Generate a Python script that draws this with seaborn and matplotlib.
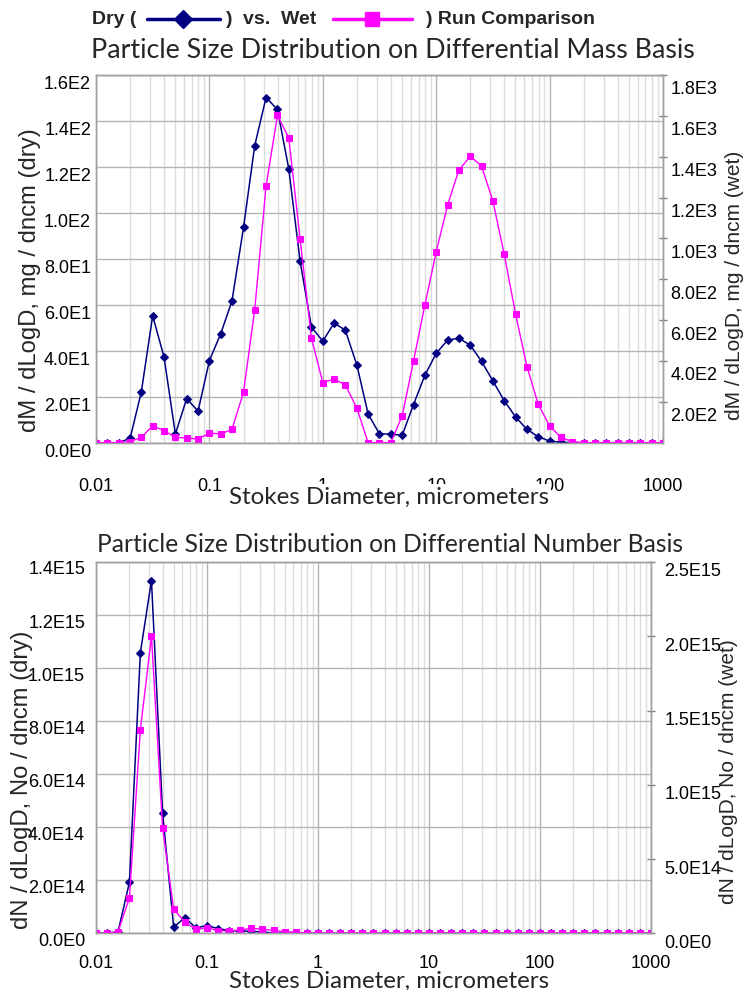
import numpy as np
import pandas as pd
import matplotlib
matplotlib.use("Agg")
import matplotlib.pyplot as plt
import seaborn as sns
from matplotlib.lines import Line2D
from matplotlib.ticker import FixedLocator, NullFormatter
from matplotlib.transforms import ScaledTranslation

# ---------------- data ----------------
diameter_um = [0.01, 0.0126, 0.0158, 0.02, 0.0251, 0.0316, 0.0398, 0.0501, 0.0631, 0.0794,
               0.1, 0.126, 0.158, 0.2, 0.251, 0.316, 0.398, 0.501, 0.631, 0.794,
               1.0, 1.26, 1.58, 2.0, 2.51, 3.16, 3.98, 5.01, 6.31, 7.94,
               10.0, 12.6, 15.8, 20.0, 25.1, 31.6, 39.8, 50.1, 63.1, 79.4,
               100.0, 126.0, 158.0, 200.0, 251.0, 316.0, 398.0, 501.0, 631.0, 794.0, 1000.0]

mass_dry = [0, 0, 0, 1.9, 22.1, 55.2, 37.3, 3.8, 19.2, 13.7,
            35.7, 47.5, 61.6, 93.7, 129.3, 150.2, 145.0, 119.2, 78.9, 50.3,
            44.2, 52.1, 48.9, 33.7, 12.5, 3.8, 3.8, 3.2, 16.6, 29.3,
            38.9, 44.6, 45.5, 42.4, 35.4, 26.9, 18.3, 11.2, 5.8, 2.6,
            0.7, 0.2, 0, 0, 0, 0, 0, 0, 0, 0, 0]

mass_wet = [0, 0, 0, 5, 26, 83, 59, 26, 23, 18,
            47, 43, 65, 247, 651, 1256, 1602, 1493, 996, 512,
            294, 311, 283, 168, 0, 0, 0, 131, 399, 674,
            934, 1163, 1333, 1403, 1354, 1184, 922, 630, 373, 188,
            82, 26, 5, 0, 0, 0, 0, 0, 0, 0, 0]

num_dry = [0, 0, 6e12, 1.92e14, 1.058e15, 1.33e15, 4.53e14, 2.3e13, 5.9e13, 2.1e13,
           2.9e13, 1.8e13, 1.0e13, 9e12, 7.5e12, 5e12, 1e12, 5e11, 0, 0,
           0, 0, 0, 0, 0, 0, 0, 0, 0, 0,
           0, 0, 0, 0, 0, 0, 0, 0, 0, 0,
           0, 0, 0, 0, 0, 0, 0, 0, 0, 0, 0]

num_wet = [0, 0, 1.1e13, 2.38e14, 1.37e15, 2.0e15, 7.11e14, 1.61e14, 7.6e13, 2.7e13,
           3.8e13, 1.8e13, 1.6e13, 2.2e13, 3.4e13, 2.7e13, 2.0e13, 1.1e13, 7e12, 2e12,
           0, 0, 0, 0, 0, 0, 0, 0, 0, 0,
           0, 0, 0, 0, 0, 0, 0, 0, 0, 0,
           0, 0, 0, 0, 0, 0, 0, 0, 0, 0, 0]

x_ticks = [0.01, 0.1, 1, 10, 100, 1000]
x_tick_labels = ["0.01", "0.1", "1", "10", "100", "1000"]

mass_dry_ticks = [0, 20, 40, 60, 80, 100, 120, 140, 160]
mass_dry_labels = ["0.0E0", "2.0E1", "4.0E1", "6.0E1", "8.0E1", "1.0E2", "1.2E2", "1.4E2", "1.6E2"]
mass_wet_ticks = [200, 400, 600, 800, 1000, 1200, 1400, 1600, 1800]
mass_wet_labels = ["2.0E2", "4.0E2", "6.0E2", "8.0E2", "1.0E3", "1.2E3", "1.4E3", "1.6E3", "1.8E3"]
num_dry_ticks = [0, 2e14, 4e14, 6e14, 8e14, 1.0e15, 1.2e15, 1.4e15]
num_dry_labels = ["0.0E0", "2.0E14", "4.0E14", "6.0E14", "8.0E14", "1.0E15", "1.2E15", "1.4E15"]
num_wet_ticks = [0, 5e14, 1.0e15, 1.5e15, 2.0e15, 2.5e15]
num_wet_labels = ["0.0E0", "5.0E14", "1.0E15", "1.5E15", "2.0E15", "2.5E15"]

# ---------------- style ----------------
sns.set_theme(style="white")
plt.rcParams['font.family'] = ['Liberation Sans', 'DejaVu Sans']

DRY = "#000080"
WET = "#ff00ff"
GRID_MAJOR = "#b4b4b4"
GRID_MINOR = "#dcdcdc"
SPINE = "#a0a0a0"
TITLE_FONT = ['Lato', 'DejaVu Sans']

W, H = 749, 990
fig = plt.figure(figsize=(W / 100, H / 100), dpi=100)
fig.patch.set_facecolor("white")
renderer = fig.canvas.get_renderer()
PX = 72 / 100  # points per pixel


def fx(px):
    return px / W


def fy(py):
    return 1 - py / H


def fit(t, target_px, vertical=False):
    bb = t.get_window_extent(renderer)
    cur = bb.height if vertical else bb.width
    t.set_fontsize(t.get_fontsize() * target_px / cur)


def make_panel(left, right, top, bottom, xvals, ydry, ywet,
               dticks, dlabels, wticks, wlabels, dlim, wlim, xpad, loff, roff, lpad, rpad):
    ax = fig.add_axes([fx(left), fy(bottom), (right - left) / W, (bottom - top) / H])
    axr = ax.twinx()
    df = pd.DataFrame({"d": xvals, "dry": ydry, "wet": ywet})
    sns.lineplot(data=df, x="d", y="dry", ax=ax, color=DRY, marker="D", markersize=4.5,
                 markeredgecolor=DRY, linewidth=1.1, legend=False)
    sns.lineplot(data=df, x="d", y="wet", ax=axr, color=WET, marker="s", markersize=5,
                 markeredgecolor=WET, linewidth=1.0, legend=False)
    for a in (ax, axr):
        a.set_xscale("log")
        a.set_xlim(0.01, 1000)
        a.set_xlabel("")
        a.set_ylabel("")
        for s in a.spines.values():
            s.set_color(SPINE)
            s.set_linewidth(1.0)
    ax.set_ylim(*dlim)
    axr.set_ylim(*wlim)
    ax.xaxis.set_major_locator(FixedLocator(x_ticks))
    ax.set_xticklabels(x_tick_labels)
    minors = [m * d for d in x_ticks[:-1] for m in range(2, 10)]
    ax.xaxis.set_minor_locator(FixedLocator(minors))
    ax.xaxis.set_minor_formatter(NullFormatter())
    ax.set_yticks(dticks)
    ax.set_yticklabels(dlabels)
    axr.set_yticks(wticks)
    axr.set_yticklabels(wlabels)
    ax.grid(True, which="major", axis="both", color=GRID_MAJOR, linewidth=1.0)
    ax.grid(True, which="minor", axis="x", color=GRID_MINOR, linewidth=1.0)
    ax.set_axisbelow(True)
    ax.tick_params(axis="x", which="both", length=0, pad=xpad * PX, labelsize=13, labelcolor="black")
    ax.tick_params(axis="y", length=0, pad=lpad * PX, labelsize=13, labelcolor="black")
    axr.tick_params(axis="y", direction="inout", length=6, width=1, color="#808080",
                    pad=rpad * PX, labelsize=13, labelcolor="black")
    axr.tick_params(axis="x", which="both", length=0, labelbottom=False)
    for lbl in ax.get_yticklabels():
        lbl.set_transform(lbl.get_transform() + ScaledTranslation(0, -loff / 100, fig.dpi_scale_trans))
    for lbl in axr.get_yticklabels():
        lbl.set_transform(lbl.get_transform() + ScaledTranslation(0, -roff / 100, fig.dpi_scale_trans))
    return ax, axr


# top panel: mass basis
make_panel(96, 663, 75, 442.7, diameter_um, mass_dry, mass_wet,
           mass_dry_ticks, mass_dry_labels, mass_wet_ticks, mass_wet_labels,
           (0, 160), (0, 1800), xpad=35, loff=8, roff=13, lpad=5, rpad=3)

# bottom panel: number basis
make_panel(96, 651, 562, 933.3, diameter_um, num_dry, num_wet,
           num_dry_ticks, num_dry_labels, num_wet_ticks, num_wet_labels,
           (0, 1.4e15), (0, 2.5e15), xpad=22, loff=6, roff=8, lpad=11, rpad=9)

# ---------------- titles and labels ----------------
t = fig.text(fx(393), fy(50), "Particle Size Distribution on Differential Mass Basis",
             ha="center", va="center", family=TITLE_FONT, fontsize=18)
fit(t, 600)
t = fig.text(fx(390), fy(544), "Particle Size Distribution on Differential Number Basis",
             ha="center", va="center", family=TITLE_FONT, fontsize=18)
fit(t, 586)

for yc in (497, 981):
    t = fig.text(fx(389), fy(yc), "Stokes Diameter, micrometers", ha="center", va="center",
                 family=TITLE_FONT, fontsize=16,
                 bbox=dict(facecolor="white", edgecolor="none", pad=1.5))
    fit(t, 322)

t = fig.text(fx(30), fy(280), "dM / dLogD, mg / dncm (dry)", rotation=90,
             ha="center", va="center", fontsize=15)
fit(t, 305, vertical=True)
t = fig.text(fx(735), fy(285), "dM / dLogD, mg / dncm (wet)", rotation=90,
             ha="center", va="center", fontsize=15)
fit(t, 270, vertical=True)
t = fig.text(fx(22), fy(780), "dN / dLogD, No / dncm (dry)", rotation=90,
             ha="center", va="center", fontsize=15)
fit(t, 300, vertical=True)
t = fig.text(fx(728), fy(772), "dN / dLogD, No / dncm (wet)", rotation=90,
             ha="center", va="center", fontsize=15)
fit(t, 265, vertical=True)

# ---------------- header legend ----------------
ly = fy(19)
fig.text(fx(92), ly, "Dry (", ha="left", va="center", fontsize=14, fontweight="bold")
fig.add_artist(Line2D([fx(147), fx(220)], [ly, ly], transform=fig.transFigure, color=DRY, lw=2.5))
fig.add_artist(Line2D([fx(183)], [ly], transform=fig.transFigure, color=DRY, marker="D",
                      markersize=9, linestyle="none"))
fig.text(fx(226), ly, ")", ha="left", va="center", fontsize=14, fontweight="bold")
fig.text(fx(243), ly, "vs.  Wet", ha="left", va="center", fontsize=14, fontweight="bold")
fig.add_artist(Line2D([fx(333), fx(412)], [ly, ly], transform=fig.transFigure, color=WET, lw=2.5))
fig.add_artist(Line2D([fx(372)], [ly], transform=fig.transFigure, color=WET, marker="s",
                      markersize=10, linestyle="none"))
fig.text(fx(426), ly, ") Run Comparison", ha="left", va="center", fontsize=14, fontweight="bold")

fig.savefig("out.png", dpi=100, facecolor="white")
